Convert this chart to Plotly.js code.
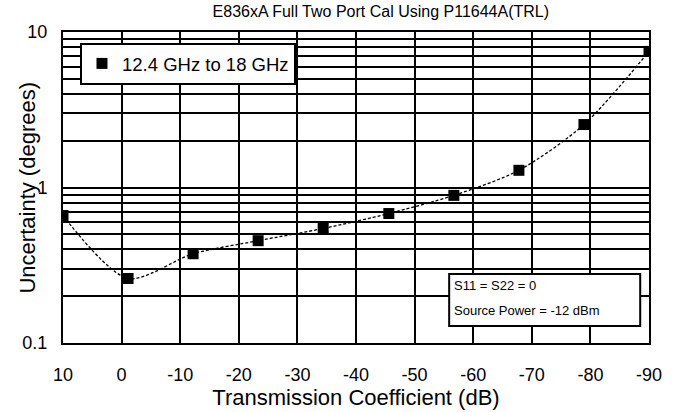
<!DOCTYPE html>
<html>
<head>
<meta charset="utf-8">
<script src="https://cdn.plot.ly/plotly-3.0.1.min.js"></script>
<style>html,body{margin:0;padding:0;background:#fff;}#chart{width:674px;height:412px;}</style>
</head>
<body>
<div id="chart"></div>
<script>
// Data
const transmissionDb = [10, -1.1, -12.2, -23.3, -34.4, -45.6, -56.7, -67.8, -78.9, -90];
const uncertaintyDeg = [0.66, 0.26, 0.375, 0.455, 0.545, 0.68, 0.89, 1.29, 2.54, 7.5];
const seriesName = '12.4 GHz to 18 GHz';
const xTickVals = [10, 0, -10, -20, -30, -40, -50, -60, -70, -80, -90];
const xTickText = ['10', '0', '-10', '-20', '-30', '-40', '-50', '-60', '-70', '-80', '-90'];
const yMajor = [0.1, 1, 10];
const yMajorText = ['0.1', '1', '10'];
const titleText = 'E836xA Full Two Port Cal Using P11644A(TRL)';
const xTitleText = 'Transmission Coefficient (dB)';
const yTitleText = 'Uncertainty (degrees)';
const noteLines = ['S11 = S22 = 0', 'Source Power = -12 dBm'];

// build log gridline positions (1..9 x decade)
const yTickVals = [], yTickText = [];
[0.1, 1].forEach(d => {
  for (let k = 1; k <= 9; k++) {
    const v = +(d * k).toPrecision(3);
    yTickVals.push(v);
    const idx = yMajor.indexOf(v);
    yTickText.push(idx >= 0 ? yMajorText[idx] : '');
  }
});
yTickVals.push(10); yTickText.push('10');

const font = "Liberation Sans, Arial, sans-serif";

const lineTrace = {
  x: transmissionDb, y: uncertaintyDeg,
  type: 'scatter', mode: 'lines', showlegend: false, hoverinfo: 'skip',
  line: {color: '#000', width: 1.3, shape: 'spline', smoothing: 0.8, dash: '3px,2px'}
};
const markerTrace = {
  x: transmissionDb, y: uncertaintyDeg,
  type: 'scatter', mode: 'markers', name: seriesName,
  marker: {symbol: 'square', size: 11, color: '#000'}
};

const layout = {
  width: 674, height: 412,
  margin: {l: 63, r: 25, t: 32, b: 69},
  paper_bgcolor: '#fff', plot_bgcolor: '#fff',
  font: {family: font, color: '#000', size: 18},
  title: {text: titleText, font: {family: font, size: 16, color: '#000'},
          x: 0.565, xanchor: 'center', yref: 'container', y: 0.972, yanchor: 'middle'},
  xaxis: {
    range: [10, -90], tickmode: 'array', tickvals: xTickVals, ticktext: xTickText,
    showgrid: true, gridcolor: '#000', gridwidth: 2,
    showline: true, linecolor: '#000', linewidth: 2, mirror: true,
    zeroline: false, ticks: '', ticklabelstandoff: 14,
    tickfont: {size: 18, family: font},
    title: {text: xTitleText, font: {size: 22, family: font}, standoff: 3}
  },
  yaxis: {
    type: 'log', range: [-1, 1], tickmode: 'array', tickvals: yTickVals, ticktext: yTickText,
    showgrid: true, gridcolor: '#000', gridwidth: 2,
    showline: true, linecolor: '#000', linewidth: 2, mirror: true,
    zeroline: false, ticks: '', ticklabelstandoff: 10,
    tickfont: {size: 18, family: font}
  },
  showlegend: true,
  legend: {
    x: 0.029, y: 0.965, xanchor: 'left', yanchor: 'top',
    bgcolor: '#fff', bordercolor: '#000', borderwidth: 2,
    font: {size: 18.5, family: font}, entrywidth: 200, itemwidth: 30
  },
  shapes: [{
    type: 'rect', xref: 'paper', yref: 'paper',
    x0: 0.659, x1: 0.985, y0: 0.055, y1: 0.222,
    line: {color: '#000', width: 2}, fillcolor: '#fff', layer: 'above'
  }],
  annotations: [
    {xref: 'paper', yref: 'paper', x: -0.0614, y: 0.5, xanchor: 'center', yanchor: 'middle',
     text: yTitleText, textangle: -90, showarrow: false, font: {size: 22, family: font, color: '#000'}},
    {xref: 'paper', yref: 'paper', x: 0.664, y: 0.186, xanchor: 'left', yanchor: 'middle',
     text: noteLines[0], showarrow: false, font: {size: 13, family: font, color: '#000'}},
    {xref: 'paper', yref: 'paper', x: 0.664, y: 0.106, xanchor: 'left', yanchor: 'middle',
     text: noteLines[1], showarrow: false, font: {size: 13, family: font, color: '#000'}}
  ]
};

Plotly.newPlot('chart', [lineTrace, markerTrace], layout, {displayModeBar: false, staticPlot: true});
</script>
</body>
</html>
